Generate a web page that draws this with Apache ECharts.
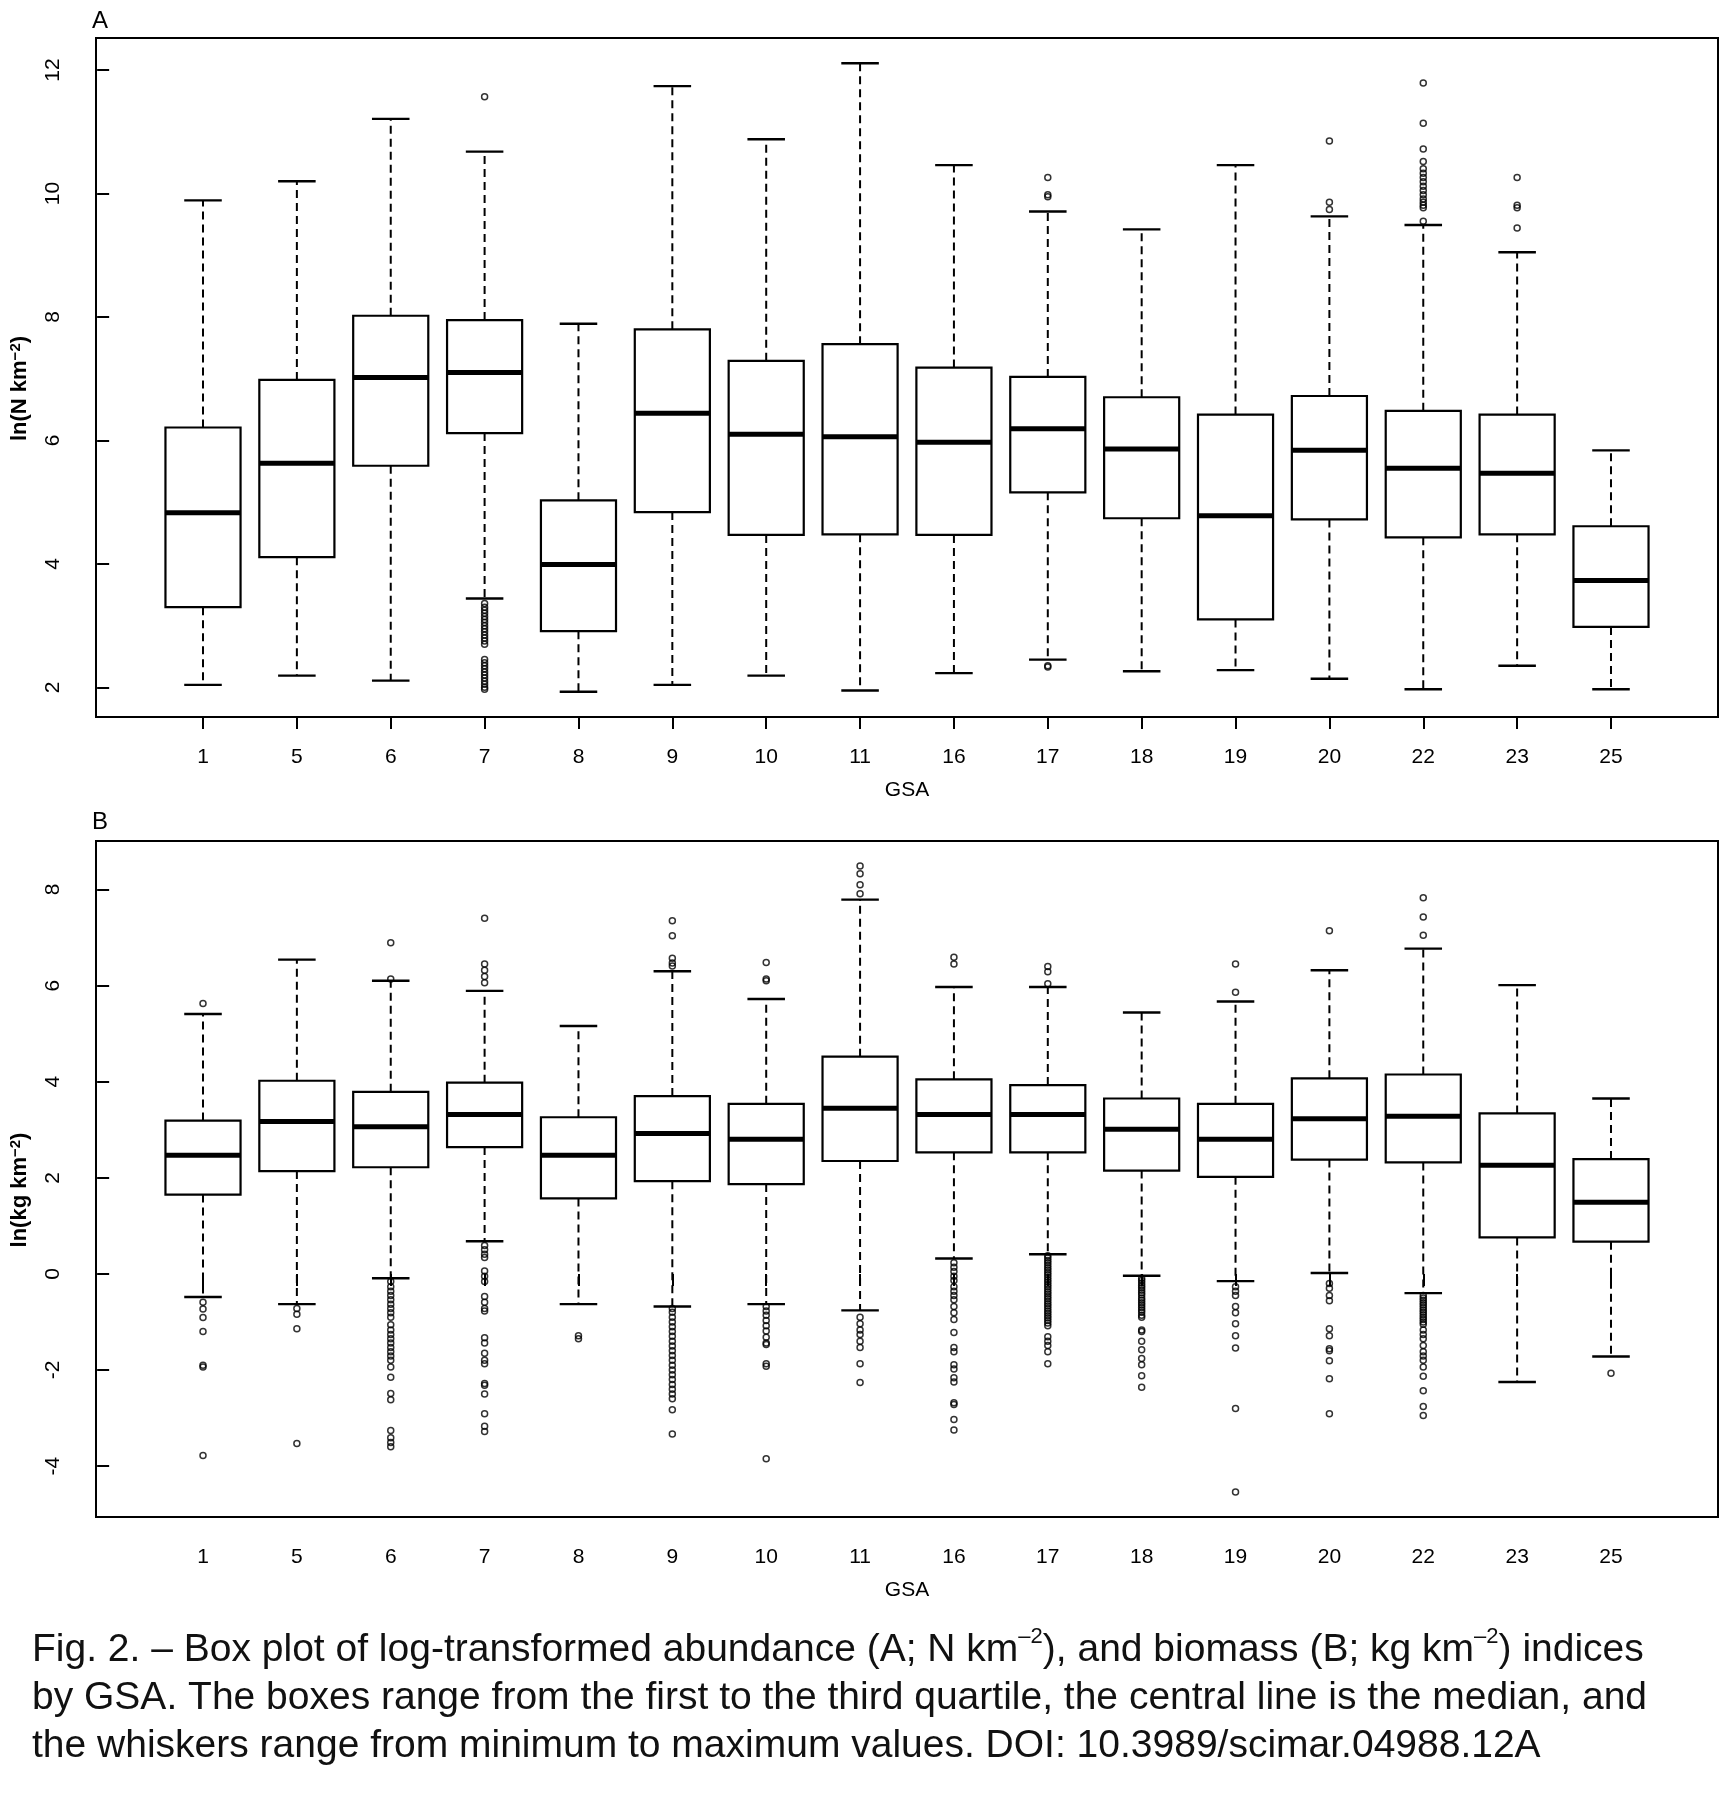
<!DOCTYPE html>
<html>
<head>
<meta charset="utf-8">
<title>Fig. 2 box plots by GSA</title>
<script src="https://cdn.jsdelivr.net/npm/echarts@6/dist/echarts.min.js"></script>
<style>
  html, body { margin: 0; padding: 0; background: #fff; }
  #chart { width: 1732px; height: 1794px; }
</style>
</head>
<body>
<div id="chart"></div>
<script>
// GSA categories (x axis)
const gsa = ['1', '5', '6', '7', '8', '9', '10', '11', '16', '17', '18', '19', '20', '22', '23', '25'];

// Panel A: ln(N km^-2)
const lowA  = [2.04, 2.19, 2.11, 3.44, 1.93, 2.04, 2.19, 1.95, 2.23, 2.45, 2.26, 2.28, 2.14, 1.97, 2.35, 1.97];
const q1A   = [3.30, 4.11, 5.59, 6.12, 2.91, 4.84, 4.47, 4.48, 4.47, 5.16, 4.74, 3.10, 4.72, 4.43, 4.48, 2.98];
const medA  = [4.83, 5.63, 7.02, 7.10, 3.99, 6.44, 6.10, 6.06, 5.97, 6.19, 5.86, 4.78, 5.84, 5.55, 5.47, 3.73];
const q3A   = [6.21, 6.98, 8.02, 7.95, 5.03, 7.80, 7.29, 7.56, 7.18, 7.03, 6.70, 6.42, 6.72, 6.48, 6.42, 4.61];
const highA = [9.89, 10.20, 11.21, 10.68, 7.89, 11.74, 10.88, 12.11, 10.46, 9.71, 9.42, 10.46, 9.63, 9.49, 9.05, 5.84];
const outA = [
  [], [], [],
  [11.57, 3.36, 3.30, 3.25, 3.20, 3.15, 3.10, 3.05, 3.00, 2.95, 2.90, 2.85, 2.80, 2.75, 2.70,
   2.45, 2.40, 2.35, 2.30, 2.25, 2.20, 2.15, 2.10, 2.05, 2.00, 1.97],
  [], [], [], [], [],
  [10.26, 9.98, 9.95, 2.35, 2.33],
  [], [],
  [10.85, 9.86, 9.74],
  [11.79, 11.14, 10.72, 10.52, 10.40, 10.33, 10.26, 10.19, 10.12, 10.05, 9.98, 9.91, 9.86, 9.81, 9.77, 9.55],
  [10.26, 9.81, 9.77, 9.44],
  []
];

// Panel B: ln(kg km^-2)
const lowB  = [-0.48, -0.63, -0.09, 0.68, -0.63, -0.68, -0.63, -0.76, 0.32, 0.41, -0.04, -0.15, 0.02, -0.40, -2.25, -1.72];
const q1B   = [1.65, 2.14, 2.22, 2.64, 1.57, 1.93, 1.87, 2.35, 2.53, 2.53, 2.15, 2.02, 2.38, 2.32, 0.76, 0.67];
const medB  = [2.47, 3.17, 3.06, 3.32, 2.47, 2.92, 2.80, 3.45, 3.32, 3.32, 3.01, 2.80, 3.23, 3.28, 2.26, 1.49];
const q3B   = [3.19, 4.02, 3.79, 3.98, 3.26, 3.70, 3.54, 4.52, 4.05, 3.93, 3.65, 3.54, 4.07, 4.15, 3.34, 2.39];
const highB = [5.41, 6.54, 6.10, 5.89, 5.16, 6.30, 5.72, 7.79, 5.97, 5.97, 5.44, 5.67, 6.32, 6.77, 6.01, 3.65];
const outB = [
  [5.63, -0.59, -0.73, -0.91, -1.20, -1.90, -1.94, -3.78],
  [-0.72, -0.84, -1.14, -3.53],
  [6.89, 6.14, -0.16, -0.27, -0.36, -0.45, -0.54, -0.63, -0.72, -0.81, -0.90, -1.06, -1.17, -1.26,
   -1.35, -1.44, -1.53, -1.62, -1.71, -1.80, -1.94, -2.15, -2.49, -2.62, -3.26, -3.41, -3.51, -3.60],
  [7.40, 6.45, 6.32, 6.19, 6.06, 0.59, 0.50, 0.41, 0.34, 0.06, -0.05, -0.16, -0.47, -0.59, -0.72,
   -0.77, -1.33, -1.44, -1.65, -1.80, -1.87, -2.28, -2.32, -2.50, -2.91, -3.17, -3.28],
  [-1.29, -1.35],
  [7.35, 7.04, 6.57, 6.47, 6.41, -0.72, -0.80, -0.90, -1.00, -1.10, -1.20, -1.30, -1.40, -1.50,
   -1.60, -1.70, -1.80, -1.90, -2.00, -2.10, -2.20, -2.30, -2.40, -2.50, -2.60, -2.83, -3.33],
  [6.48, 6.14, 6.10, -0.68, -0.77, -0.86, -0.97, -1.08, -1.19, -1.32, -1.44, -1.47, -1.87, -1.92, -3.85],
  [8.49, 8.33, 8.10, 7.91, -0.90, -1.04, -1.17, -1.26, -1.40, -1.53, -1.87, -2.26],
  [6.59, 6.45, 0.23, 0.14, 0.05, -0.05, -0.14, -0.27, -0.36, -0.45, -0.54, -0.68, -0.81, -0.95,
   -1.22, -1.53, -1.62, -1.89, -1.98, -2.16, -2.25, -2.68, -2.72, -3.03, -3.25],
  [6.40, 6.29, 6.04, 0.38, 0.33, 0.28, 0.23, 0.18, 0.13, 0.08, 0.03, -0.02, -0.07, -0.12, -0.17,
   -0.22, -0.27, -0.32, -0.37, -0.42, -0.47, -0.52, -0.57, -0.62, -0.67, -0.72, -0.77, -0.82,
   -0.87, -0.92, -0.97, -1.02, -1.08, -1.31, -1.40, -1.49, -1.62, -1.87],
  [-0.09, -0.14, -0.19, -0.24, -0.29, -0.34, -0.39, -0.44, -0.50, -0.55, -0.60, -0.65, -0.70,
   -0.75, -0.80, -0.86, -0.90, -1.17, -1.20, -1.40, -1.58, -1.76, -1.89, -2.12, -2.36],
  [6.45, 5.86, -0.27, -0.36, -0.45, -0.68, -0.81, -1.04, -1.29, -1.54, -2.80, -4.54],
  [7.14, -0.20, -0.30, -0.45, -0.56, -1.14, -1.29, -1.56, -1.60, -1.81, -2.18, -2.91],
  [7.83, 7.43, 7.05, -0.45, -0.50, -0.55, -0.60, -0.65, -0.70, -0.75, -0.80, -0.85, -0.90, -0.95,
   -1.00, -1.05, -1.17, -1.26, -1.35, -1.49, -1.62, -1.71, -1.80, -1.94, -2.13, -2.43, -2.76, -2.95],
  [],
  [-2.07]
];

const yTicksA = [2, 4, 6, 8, 10, 12];
const yTicksB = [-4, -2, 0, 2, 4, 6, 8];

const FONT = '"Liberation Sans", Arial, Helvetica, sans-serif';
const positions = gsa.map((g, i) => i + 1);

function boxRows(low, q1, med, q3, high) {
  return gsa.map((g, i) => [i + 1, low[i], q1[i], med[i], q3[i], high[i]]);
}

function outlierRows(out) {
  const rows = [];
  out.forEach((vals, i) => vals.forEach(v => rows.push([i + 1, v])));
  return rows;
}

// R-style box: dashed whiskers, stapled caps, white box, thick median
function renderBox(params, api) {
  const x = api.value(0);
  const low = api.coord([x, api.value(1)]);
  const q1 = api.coord([x, api.value(2)]);
  const med = api.coord([x, api.value(3)]);
  const q3 = api.coord([x, api.value(4)]);
  const high = api.coord([x, api.value(5)]);
  const halfBox = api.size([0.8, 0])[0] / 2;
  const halfCap = api.size([0.4, 0])[0] / 2;
  const cx = low[0];
  const dash = { stroke: '#000', lineWidth: 2, lineDash: [8, 5], fill: null };
  const solid = { stroke: '#000', lineWidth: 2.4, fill: null };
  return {
    type: 'group',
    children: [
      { type: 'line', shape: { x1: cx, y1: q3[1], x2: cx, y2: high[1] }, style: dash },
      { type: 'line', shape: { x1: cx, y1: q1[1], x2: cx, y2: low[1] }, style: dash },
      { type: 'line', shape: { x1: cx - halfCap, y1: high[1], x2: cx + halfCap, y2: high[1] }, style: solid },
      { type: 'line', shape: { x1: cx - halfCap, y1: low[1], x2: cx + halfCap, y2: low[1] }, style: solid },
      {
        type: 'rect',
        shape: { x: cx - halfBox, y: q3[1], width: halfBox * 2, height: q1[1] - q3[1] },
        style: { fill: '#fff', stroke: '#000', lineWidth: 2.2 }
      },
      {
        type: 'line',
        shape: { x1: cx - halfBox, y1: med[1], x2: cx + halfBox, y2: med[1] },
        style: { stroke: '#000', lineWidth: 5 }
      }
    ]
  };
}

function xAxisFor(gridIndex) {
  return {
    type: 'value',
    gridIndex: gridIndex,
    min: -0.14,
    max: 17.14,
    name: 'GSA',
    nameLocation: 'middle',
    nameGap: 63,
    nameTextStyle: { fontFamily: FONT, fontSize: 21, color: '#000' },
    axisLine: { show: false },
    splitLine: { show: false },
    axisTick: {
      show: true, inside: false, length: 12, customValues: positions,
      lineStyle: { color: '#000', width: 2 }
    },
    axisLabel: {
      show: true, margin: 30, customValues: positions,
      fontFamily: FONT, fontSize: 21, color: '#000',
      formatter: v => gsa[Math.round(v) - 1]
    }
  };
}

function yAxisFor(gridIndex, min, max, ticks, unit) {
  return {
    type: 'value',
    gridIndex: gridIndex,
    min: min,
    max: max,
    name: '{n|ln(' + unit + ' km}{s|−2}{n|)}',
    nameLocation: 'middle',
    nameGap: 64,
    nameRotate: 90,
    nameTextStyle: {
      padding: [0, 22, 0, 0],
      rich: {
        n: { fontFamily: FONT, fontSize: 22, fontWeight: 'bold', color: '#000' },
        s: { fontFamily: FONT, fontSize: 15, fontWeight: 'bold', color: '#000', verticalAlign: 'top', padding: [0, 0, 9, 0] }
      }
    },
    axisLine: { show: false },
    splitLine: { show: false },
    axisTick: {
      show: true, inside: false, length: 12, customValues: ticks,
      lineStyle: { color: '#000', width: 2 }
    },
    axisLabel: {
      show: true, margin: 32, rotate: 90, customValues: ticks,
      fontFamily: FONT, fontSize: 21, color: '#000',
      formatter: v => String(v)
    }
  };
}

const chart = echarts.init(document.getElementById('chart'), null, { renderer: 'canvas' });

const option = {
  backgroundColor: '#fff',
  animation: false,
  grid: [
    { left: 91, top: 38, width: 1627, height: 679, show: true, borderColor: '#000', borderWidth: 2, backgroundColor: 'transparent' },
    { left: 91, top: 841, width: 1627, height: 676, show: true, borderColor: '#000', borderWidth: 2, backgroundColor: 'transparent' }
  ],
  xAxis: [xAxisFor(0), xAxisFor(1)],
  yAxis: [
    yAxisFor(0, 1.52, 12.52, yTicksA, 'N'),
    yAxisFor(1, -5.06, 9.01, yTicksB, 'kg')
  ],
  series: [
    {
      type: 'custom', xAxisIndex: 0, yAxisIndex: 0,
      renderItem: renderBox, data: boxRows(lowA, q1A, medA, q3A, highA)
    },
    {
      type: 'scatter', xAxisIndex: 0, yAxisIndex: 0,
      symbol: 'circle', symbolSize: 6,
      itemStyle: { color: 'rgba(0,0,0,0)', borderColor: '#000', borderWidth: 1.5 },
      data: outlierRows(outA)
    },
    {
      type: 'custom', xAxisIndex: 1, yAxisIndex: 1,
      renderItem: renderBox, data: boxRows(lowB, q1B, medB, q3B, highB)
    },
    {
      type: 'scatter', xAxisIndex: 1, yAxisIndex: 1,
      symbol: 'circle', symbolSize: 6,
      itemStyle: { color: 'rgba(0,0,0,0)', borderColor: '#000', borderWidth: 1.5 },
      data: outlierRows(outB)
    }
  ],
  graphic: [
    { type: 'text', left: 92, top: 9, style: { text: 'A', font: '24px ' + FONT, fill: '#000' } },
    { type: 'text', left: 92, top: 810, style: { text: 'B', font: '24px ' + FONT, fill: '#000' } },
    {
      type: 'text', left: 32, top: 1626,
      style: {
        text: 'Fig. 2. – Box plot of log-transformed abundance (A; N km{s|–2}), and biomass (B; kg km{s|–2}) indices\n' +
              'by GSA. The boxes range from the first to the third quartile, the central line is the median, and\n' +
              'the whiskers range from minimum to maximum values. DOI: 10.3989/scimar.04988.12A',
        fontFamily: FONT, fontSize: 39, lineHeight: 48, fill: '#111',
        rich: {
          s: { fontFamily: FONT, fontSize: 22, verticalAlign: 'top', lineHeight: 48, fill: '#111' }
        }
      }
    }
  ]
};

chart.setOption(option);
</script>
</body>
</html>
